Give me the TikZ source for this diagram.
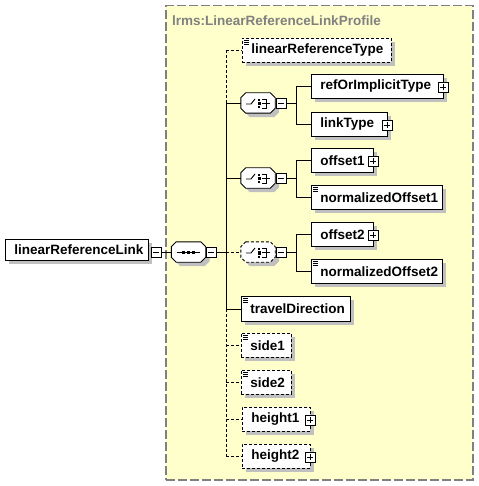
\documentclass[tikz,border=0pt]{standalone}
\usepackage{fontspec}
\setmainfont{Liberation Sans}
\usetikzlibrary{shadows}
\definecolor{grpfill}{RGB}{255,255,204}
\definecolor{grpline}{RGB}{128,128,128}
\definecolor{shdcol}{RGB}{192,192,192}
\newcommand\octpath[1]{([xshift=5pt]#1.north west) -- ([xshift=-5pt]#1.north east) -- ([yshift=-5pt]#1.north east) -- ([yshift=5pt]#1.south east) -- ([xshift=-5pt]#1.south east) -- ([xshift=5pt]#1.south west) -- ([yshift=5pt]#1.south west) -- ([yshift=-5pt]#1.north west) -- cycle}
\newcommand\octdraw[2][]{\fill[shdcol,transform canvas={shift={(4pt,-4pt)}}] \octpath{#2};
  \draw[fill=white,line width=0.9pt,#1] \octpath{#2};}
\newcommand\simpleicon[1]{\foreach \d in {2,4,6} \draw[line width=0.7pt] ([xshift=2pt,yshift=-\d pt]#1.north west) -- ++(5,0);}
\newcommand\choiceicon[1]{\begin{scope}[shift={(#1.center)},line width=0.9pt]
  \draw (-12,1) -- (-7,1) -- (-3,-4);
  \fill (0,-4) rectangle (2,-2);
  \fill (-0.5,-1) rectangle (2.5,2.5);
  \fill (0,3.5) rectangle (2,5.5);
  \draw (4,-4) -- (8,-4) -- (8,5) -- (4,5);
  \draw (4,0.5) -- (12,0.5);
  \end{scope}}
\newcommand\seqicon[1]{\begin{scope}[shift={(#1.center)},line width=0.9pt]
  \draw (-12,0) -- (11,0);
  \foreach \x in {-5,0,5} \fill (\x-1.5,-1.5) rectangle (\x+1.5,1.5);
  \end{scope}}
\begin{document}
\begin{tikzpicture}[x=1pt,y=-1pt,
  shd/.style={general shadow={fill=shdcol, shadow xshift=4pt, shadow yshift=-4pt}},
  elem/.style={draw, fill=white, line width=0.9pt, shd, anchor=north west, inner xsep=9pt, inner ysep=0pt,
    minimum height=24pt, align=left, font=\bfseries\fontsize{13.5}{16}\selectfont},
  opt/.style={dash pattern=on 3pt off 2pt},
  oct/.style={draw=none, inner sep=0pt, minimum width=34pt, minimum height=20pt},
  pm/.style={draw, fill=white, line width=0.8pt, minimum size=10pt, inner sep=0pt},
  minus/.style={pm, path picture={\draw ([xshift=2pt]path picture bounding box.west) -- ([xshift=-2pt]path picture bounding box.east);}},
  plus/.style={pm, path picture={\draw ([xshift=2pt]path picture bounding box.west) -- ([xshift=-2pt]path picture bounding box.east);
     \draw ([yshift=-2pt]path picture bounding box.north) -- ([yshift=2pt]path picture bounding box.south);}},
  conn/.style={line width=0.9pt}
  ]
\useasboundingbox (0,0) rectangle (478,486);
\fill[white] (0,0) rectangle (478,486);

% group
\node[draw=grpline, fill=grpfill, line width=1.5pt, dash pattern=on 9pt off 3pt, anchor=north west,
  minimum width=307pt, minimum height=474pt, inner sep=0pt] (grp) at (165,5) {};
\node[anchor=west, text=grpline, inner sep=0pt, font=\bfseries\fontsize{13.5}{16}\selectfont] (title) at (172,21) {lrms:LinearReferenceLinkProfile};

% main element
\node[elem, minimum height=21pt, text width=125pt] (main) at (5,239) {\mbox{linearReferenceLink}};
\node[minus] (mpm) at (156,252) {};

% compositors
\node[oct] (seq) at (188.5,252) {};
\node[oct] (ch1) at (258,103) {};
\node[oct] (ch2) at (258,178) {};
\node[oct] (ch3) at (258,252) {};
\octdraw{seq}
\octdraw{ch1}
\octdraw{ch2}
\octdraw[opt]{ch3}
\seqicon{seq}
\choiceicon{ch1}
\choiceicon{ch2}
\choiceicon{ch3}
\node[minus] (spm) at (211,252) {};
\node[minus] (c1pm) at (281,103) {};
\node[minus] (c2pm) at (281,178) {};
\node[minus] (c3pm) at (281,252) {};

% children
\node[elem, opt, text width=131pt] (lrt) at (242,38) {\mbox{linearReferenceType}};
\node[elem, text width=114pt] (roi) at (311,74) {\mbox{refOrImplicitType}};
\node[elem, text width=58pt] (lt) at (311,112) {\mbox{linkType}};
\node[elem, text width=44pt] (off1) at (311,148) {\mbox{offset1}};
\node[elem, text width=113pt] (no1) at (311,185) {\mbox{normalizedOffset1}};
\node[elem, text width=44pt] (off2) at (311,222) {\mbox{offset2}};
\node[elem, text width=113pt] (no2) at (311,259) {\mbox{normalizedOffset2}};
\node[elem, minimum height=25pt, text width=91pt] (td) at (241,296) {\mbox{travelDirection}};
\node[elem, opt, text width=32pt] (side1) at (241,333) {\mbox{side1}};
\node[elem, opt, text width=32pt] (side2) at (241,370) {\mbox{side2}};
\node[elem, opt, text width=50pt] (h1) at (242,407) {\mbox{height1}};
\node[elem, opt, text width=50pt] (h2) at (242,444) {\mbox{height2}};

\simpleicon{lrt}
\simpleicon{no1}
\simpleicon{no2}
\simpleicon{td}
\simpleicon{side1}
\simpleicon{side2}

\node[plus] (roip) at ([xshift=-0.5pt,yshift=-1pt]roi.east) {};
\node[plus] (ltp) at ([xshift=-0.5pt,yshift=-1pt]lt.east) {};
\node[plus] (off1p) at ([xshift=-0.5pt,yshift=-1pt]off1.east) {};
\node[plus] (off2p) at ([xshift=-0.5pt,yshift=-1pt]off2.east) {};
\node[plus] (h1p) at ([xshift=-0.5pt,yshift=-1pt]h1.east) {};
\node[plus] (h2p) at ([xshift=-0.5pt,yshift=-1pt]h2.east) {};

% connectors
\coordinate (spine) at (226,252);
\coordinate (b1) at (296,103);
\coordinate (b2) at (296,178);
\coordinate (b3) at (296,252);

\draw[conn] (mpm.east) -- (seq.west);
\draw[conn] (spm.east) -- (spine);
\draw[conn, opt] (spine) -- (ch3.west);

\draw[conn, opt] (spine |- lrt.west) -- (spine |- ch1.west);
\draw[conn] (spine |- ch1.west) -- (spine |- td.west);
\draw[conn, opt] (spine |- td.west) -- (spine |- h2.west);

\draw[conn, opt] (spine |- lrt.west) -- (lrt.west);
\draw[conn] (spine |- ch1.west) -- (ch1.west);
\draw[conn] (spine |- ch2.west) -- (ch2.west);
\draw[conn] (spine |- td.west) -- (td.west);
\draw[conn, opt] (spine |- side1.west) -- (side1.west);
\draw[conn, opt] (spine |- side2.west) -- (side2.west);
\draw[conn, opt] (spine |- h1.west) -- (h1.west);
\draw[conn, opt] (spine |- h2.west) -- (h2.west);

\draw[conn] (c1pm.east) -- (b1);
\draw[conn] (b1 |- roi.west) -- (b1 |- lt.west);
\draw[conn] (b1 |- roi.west) -- (roi.west);
\draw[conn] (b1 |- lt.west) -- (lt.west);

\draw[conn] (c2pm.east) -- (b2);
\draw[conn] (b2 |- off1.west) -- (b2 |- no1.west);
\draw[conn] (b2 |- off1.west) -- (off1.west);
\draw[conn] (b2 |- no1.west) -- (no1.west);

\draw[conn] (c3pm.east) -- (b3);
\draw[conn] (b3 |- off2.west) -- (b3 |- no2.west);
\draw[conn] (b3 |- off2.west) -- (off2.west);
\draw[conn] (b3 |- no2.west) -- (no2.west);
\end{tikzpicture}
\end{document}
